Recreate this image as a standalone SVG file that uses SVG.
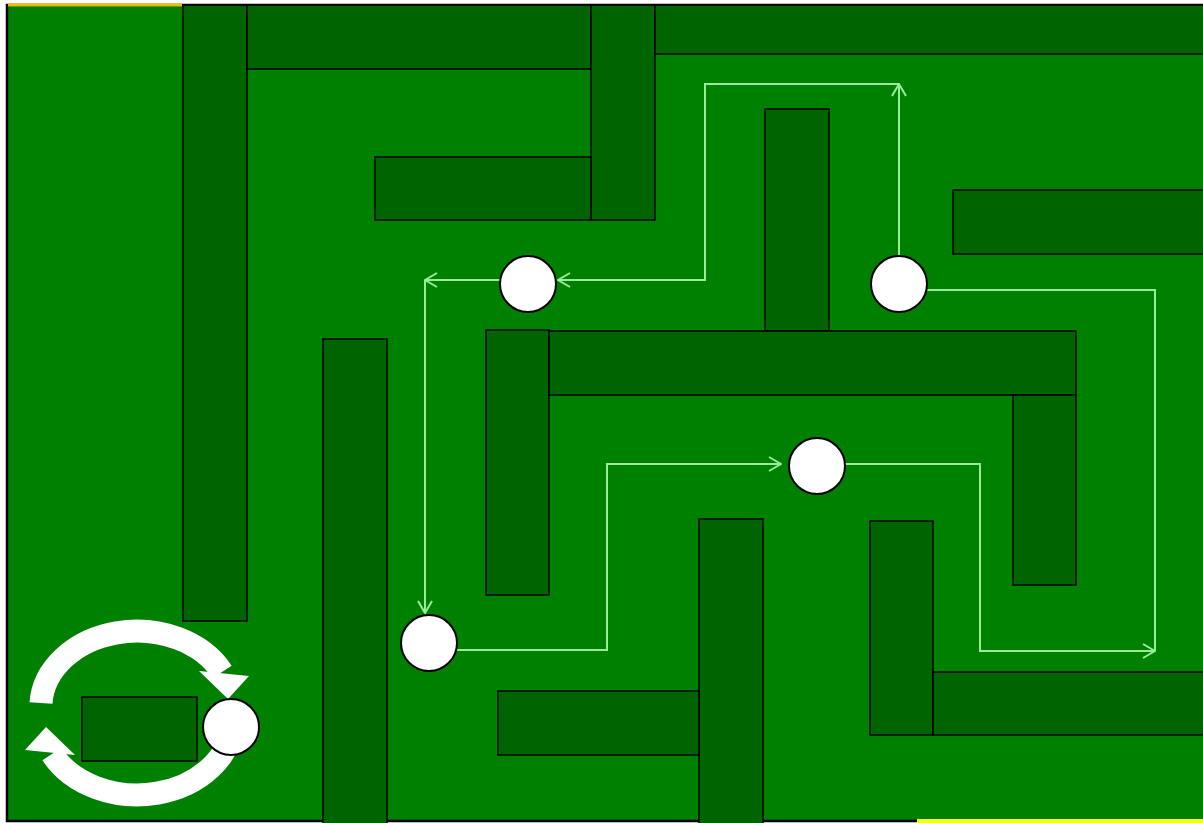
<svg xmlns="http://www.w3.org/2000/svg" width="1203" height="823" viewBox="0 0 1203 823">
<defs>
<style>
.wall{fill:#006400;stroke:#000;stroke-width:1.5}
.node{fill:#fff;stroke:#000;stroke-width:2}
.conn{fill:none;stroke:#98EE98;stroke-width:2}
.loop{fill:none;stroke:#fff;stroke-width:23}
</style>
<marker id="arr" viewBox="0 0 14 16" refX="13" refY="8" markerWidth="14" markerHeight="16" markerUnits="userSpaceOnUse" orient="auto">
<path d="M1,1 L13,8 L1,15" fill="none" stroke="#98EE98" stroke-width="2"/>
</marker>
</defs>
<rect x="0" y="0" width="1203" height="823" fill="#fff"/>
<rect x="7" y="5" width="1200" height="816" fill="#008000" stroke="#000" stroke-width="2.5"/>
<line x1="8" y1="5" x2="182" y2="5" stroke="#E8C000" stroke-width="3"/>
<line x1="917" y1="821" x2="1203" y2="821" stroke="#F0FF20" stroke-width="4"/>
<g id="walls">
<rect id="w1" class="wall" x="183" y="5" width="64" height="616"/>
<rect id="w2" class="wall" x="247" y="5" width="344" height="64"/>
<rect id="w3" class="wall" x="591" y="5" width="64" height="215"/>
<rect id="w4" class="wall" x="655" y="5" width="550" height="49"/>
<rect id="w5" class="wall" x="375" y="157" width="216" height="63"/>
<rect id="w6" class="wall" x="765" y="109" width="64" height="222"/>
<rect id="w7" class="wall" x="953" y="190" width="252" height="64"/>
<rect id="w8" class="wall" x="323" y="339" width="64" height="486"/>
<rect id="w9" class="wall" x="486" y="330" width="63" height="265"/>
<rect id="w10" class="wall" x="549" y="331" width="527" height="64"/>
<rect id="w11" class="wall" x="1013" y="395" width="63" height="190"/>
<rect id="w12" class="wall" x="699" y="519" width="64" height="306"/>
<rect id="w13" class="wall" x="498" y="691" width="201" height="64"/>
<rect id="w14" class="wall" x="870" y="521" width="63" height="214"/>
<rect id="w15" class="wall" x="933" y="672" width="272" height="63"/>
<rect id="w16" class="wall" x="82" y="697" width="115" height="64"/>
</g>
<g id="loop">
<path class="loop" d="M41,703 A96,76 0 0 1 222,672"/>
<polygon points="199,671 249,676 228,699" fill="#fff"/>
<path class="loop" d="M233,723 A96,76 0 0 1 52,754"/>
<polygon points="75,755 25,750 46,727" fill="#fff"/>
</g>
<g id="connectors">
<path class="conn" d="M899,256 L899,84" marker-end="url(#arr)"/>
<path class="conn" d="M899,84 L705,84 L705,280 L558,280" marker-end="url(#arr)"/>
<path class="conn" d="M500,280 L425,280" marker-end="url(#arr)"/>
<path class="conn" d="M425,280 L425,613" marker-end="url(#arr)"/>
<path class="conn" d="M457,650 L607,650 L607,464 L781,464" marker-end="url(#arr)"/>
<path class="conn" d="M845,464 L980,464 L980,651 L1155,651" marker-end="url(#arr)"/>
<path class="conn" d="M927,290 L1155,290 L1155,651"/>
</g>
<g id="n1"><circle class="node" cx="528" cy="284" r="28"/></g>
<g id="n2"><circle class="node" cx="899" cy="284" r="28"/></g>
<g id="n3"><circle class="node" cx="817" cy="466" r="28"/></g>
<g id="n4"><circle class="node" cx="429" cy="643" r="28"/></g>
<g id="n5"><circle class="node" cx="231" cy="727" r="28"/></g>
</svg>
